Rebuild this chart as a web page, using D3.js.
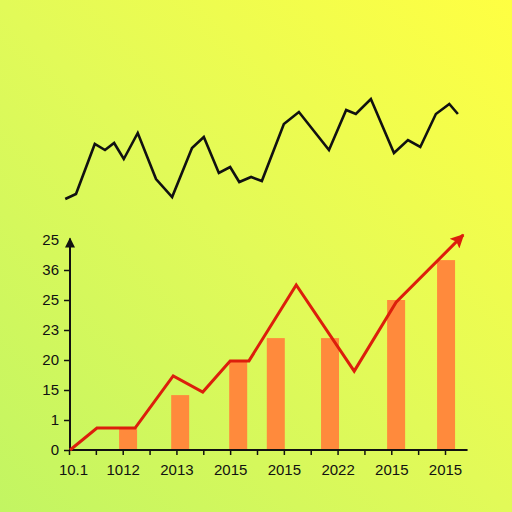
<!DOCTYPE html>
<html><head><meta charset="utf-8">
<script src="https://cdn.jsdelivr.net/npm/d3@7"></script>
<style>html,body{margin:0;padding:0;}svg{display:block;}</style>
</head><body>
<script>
// ---- data ----
const yTickLabels = ["0","1","15","20","23","25","36","25"];
const xTickLabels = ["10.1","1012","2013","2015","2015","2022","2015","2015"];
const barPos = [1.10, 2.07, 3.15, 3.85, 4.86, 6.09, 7.02];
const barVal = [0.73, 1.83, 3.0, 3.73, 3.73, 5.0, 6.33];
const trendX = [0.02, 0.52, 1.23, 1.94, 2.49, 3.0, 3.35, 4.23, 5.31, 6.09, 7.34];
const trendY = [0, 0.73, 0.73, 2.47, 1.93, 2.97, 2.97, 5.5, 2.63, 4.93, 7.17];
const sparkX = [-0.07,0.13,0.48,0.67,0.84,1.02,1.28,1.62,1.92,2.29,2.51,2.79,3.00,3.17,3.39,3.59,4.00,4.28,4.84,5.16,5.34,5.62,6.05,6.31,6.54,6.83,7.08,7.24];
const sparkY = [0.1,0.6,5.6,5.0,5.7,4.1,6.7,2.1,0.3,5.2,6.3,2.7,3.3,1.8,2.3,1.9,7.6,8.8,5.0,9.0,8.6,10.1,4.7,6.0,5.3,8.6,9.6,8.6];

const W = 512, H = 512;
const svg = d3.select("body").append("svg").attr("width", W).attr("height", H);
const defs = svg.append("defs");
const grad = defs.append("linearGradient").attr("id","bg")
  .attr("x1","0").attr("y1","1").attr("x2","1").attr("y2","0");
grad.append("stop").attr("offset","0%").attr("stop-color","#c2f562");
grad.append("stop").attr("offset","50%").attr("stop-color","#e2fa58");
grad.append("stop").attr("offset","100%").attr("stop-color","#ffff42");
svg.append("rect").attr("width",W).attr("height",H).attr("fill","url(#bg)");

defs.append("marker").attr("id","redArrow").attr("viewBox","0 0 10 10")
  .attr("refX",9).attr("refY",5).attr("markerWidth",5.2).attr("markerHeight",4.6)
  .attr("markerUnits","strokeWidth").attr("orient","auto")
  .append("path").attr("d","M0,0 L10,5 L0,10 L2,5 Z").attr("fill","#dc1e0c");
defs.append("marker").attr("id","blkArrow").attr("viewBox","0 0 10 10")
  .attr("refX",9).attr("refY",5).attr("markerWidth",6).attr("markerHeight",5)
  .attr("markerUnits","strokeWidth").attr("orient","auto")
  .append("path").attr("d","M0,0 L10,5 L0,10 Z").attr("fill","#111");

const x = d3.scaleLinear().domain([0,7]).range([69,445]);
const y = d3.scaleLinear().domain([0,7]).range([450,240]);
const sy = d3.scaleLinear().domain([0,10]).range([200,100]);

// bars
const bw = x(0.335) - x(0);
svg.append("g").selectAll("rect").data(barPos).join("rect")
  .attr("x", d => x(d) - bw/2)
  .attr("y", (d,i) => y(barVal[i]))
  .attr("width", bw)
  .attr("height", (d,i) => y(0) - y(barVal[i]))
  .attr("fill", "#ff8a3c");

// x axis
const xAxis = d3.axisBottom(x)
  .tickValues(d3.range(0, 7.01, 0.5))
  .tickSize(5).tickSizeOuter(0).tickPadding(9)
  .tickFormat(d => Number.isInteger(d) ? xTickLabels[d] : "");
const gx = svg.append("g").attr("transform", `translate(0,${y(0)})`).call(xAxis);
gx.select(".domain").remove();
gx.append("line").attr("x1", x(0)).attr("x2", x(7.42)).attr("stroke","#111").attr("stroke-width",2);
gx.selectAll(".tick line").attr("stroke","#111").attr("stroke-width",1.5);
gx.selectAll(".tick text").attr("font-family","'Liberation Sans', Arial, sans-serif")
  .attr("font-size",15).attr("fill","#111");
gx.selectAll(".tick").filter(d => d === 0).select("text").attr("dx", 4);

// y axis
const yAxis = d3.axisLeft(y).tickValues(d3.range(0,8)).tickSize(6).tickSizeOuter(0).tickPadding(5)
  .tickFormat(d => yTickLabels[d]);
const gy = svg.append("g").attr("transform", `translate(${x(0)+1},0)`).call(yAxis);
gy.select(".domain").remove();
gy.append("line").attr("y1", y(0)).attr("y2", y(7.05)).attr("stroke","#111").attr("stroke-width",2)
  .attr("marker-end","url(#blkArrow)");
gy.selectAll(".tick line").attr("stroke","#111").attr("stroke-width",1.5);
gy.selectAll(".tick").filter(d => d === 7).select("line").remove();
gy.selectAll(".tick text").attr("font-family","'Liberation Sans', Arial, sans-serif")
  .attr("font-size",15).attr("fill","#111");

// red trend line
const pts = trendX.map((d,i) => [x(d), y(trendY[i])]);
svg.append("path").attr("d", d3.line()(pts))
  .attr("fill","none").attr("stroke","#dc1e0c").attr("stroke-width",3)
  .attr("stroke-linejoin","miter").attr("marker-end","url(#redArrow)");

// black sparkline
const sp = sparkX.map((d,i) => [x(d), sy(sparkY[i])]);
svg.append("path").attr("d", d3.line()(sp))
  .attr("fill","none").attr("stroke","#111").attr("stroke-width",2.6)
  .attr("stroke-linejoin","miter");
</script>
</body></html>
